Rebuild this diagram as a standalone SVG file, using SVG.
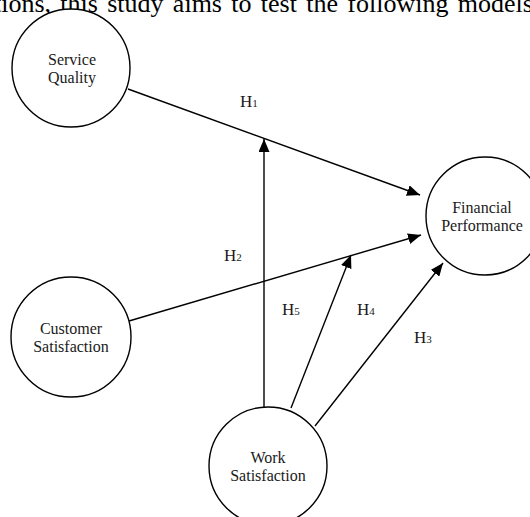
<svg xmlns="http://www.w3.org/2000/svg" width="530" height="517" viewBox="0 0 530 517">
<style>
.node{fill:#fff;stroke:#000;stroke-width:1.4}
.lbl{font-family:"Liberation Serif","Times New Roman",serif;font-size:16px;fill:#1a1a1a;text-anchor:middle}
.h{font-family:"Liberation Serif","Times New Roman",serif;font-size:17px;fill:#1a1a1a}
.sub{font-size:11px}
.edge{stroke:#000;stroke-width:1.4;fill:none;marker-end:url(#arr)}
.top{font-family:"Liberation Serif","Times New Roman",serif;font-size:26px;fill:#000;word-spacing:2.8px}
</style>
<defs>
<marker id="arr" markerUnits="userSpaceOnUse" markerWidth="13" markerHeight="11" refX="13" refY="5.5" orient="auto">
<path d="M0,0 L13,5.5 L0,11 z" fill="#000"/>
</marker>
</defs>
<text class="top" x="-6" y="12">tions, this study aims to test the following models</text>
<g id="connectors">
<path class="edge" d="M128,89 L420,195"/>
<path class="edge" d="M129,321 L421,235"/>
<path class="edge" d="M264,407 L264,139"/>
<path class="edge" d="M291,408 L351,255"/>
<path class="edge" d="M315,426 L443,263"/>
</g>
<g id="service-quality">
<circle class="node" cx="71" cy="68" r="59"/>
<text class="lbl" x="72" y="65">Service</text>
<text class="lbl" x="72" y="83">Quality</text>
</g>
<g id="customer-satisfaction">
<circle class="node" cx="71" cy="337" r="60"/>
<text class="lbl" x="71" y="334">Customer</text>
<text class="lbl" x="71" y="352">Satisfaction</text>
</g>
<g id="work-satisfaction">
<circle class="node" cx="268" cy="466" r="59"/>
<text class="lbl" x="268" y="463">Work</text>
<text class="lbl" x="268" y="481">Satisfaction</text>
</g>
<g id="financial-performance">
<circle class="node" cx="485" cy="216" r="59"/>
<text class="lbl" x="482" y="213">Financial</text>
<text class="lbl" x="482" y="231">Performance</text>
</g>
<g id="labels">
<text class="h" x="240" y="107">H<tspan class="sub">1</tspan></text>
<text class="h" x="224" y="261">H<tspan class="sub">2</tspan></text>
<text class="h" x="414" y="343">H<tspan class="sub">3</tspan></text>
<text class="h" x="357" y="315">H<tspan class="sub">4</tspan></text>
<text class="h" x="282" y="315">H<tspan class="sub">5</tspan></text>
</g>
</svg>
